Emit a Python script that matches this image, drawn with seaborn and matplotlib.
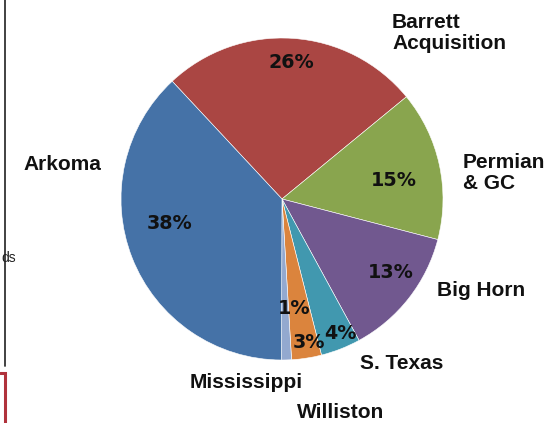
import matplotlib
matplotlib.use("Agg")
import matplotlib.pyplot as plt
import seaborn as sns
from matplotlib.lines import Line2D

sns.set_theme(style="white")
plt.rcParams["font.family"] = ["Liberation Sans", "DejaVu Sans"]

# Share of assets by basin (percent), drawn clockwise from the Barrett wedge
regions = ["Barrett\nAcquisition", "Permian\n& GC", "Big Horn", "S. Texas",
           "Williston", "Mississippi", "Arkoma"]
shares = [26, 15, 13, 4, 3, 1, 38]
colors = ["#AA4643", "#89A54E", "#71588F", "#4198AF",
          "#DB843D", "#93A9CF", "#4572A7"]

W, H = 552, 423
fig = plt.figure(figsize=(W / 100, H / 100), dpi=100)
fig.patch.set_facecolor("white")

# square axes holding the pie: centre (282, 199) px, radius 161 px
cx, cy, r = 282, 199, 161
ax = fig.add_axes([(cx - r) / W, (H - cy - r) / H, 2 * r / W, 2 * r / H])

wedges, texts, autotexts = ax.pie(
    shares, labels=regions, colors=colors, startangle=133, counterclock=False,
    autopct="%d%%", radius=1.0,
    wedgeprops=dict(edgecolor="white", linewidth=0.4),
    textprops=dict(color="#111111"),
)
ax.set_aspect("auto")
ax.set_xlim(-1, 1)
ax.set_ylim(-1, 1)
ax.set_axis_off()


def px(x, y):
    """pixel position -> pie data coordinates"""
    return ((x - cx) / r, (cy - y) / r)


# category label placement (left edge / centre in px)
name_pos = {
    "Barrett\nAcquisition": (392, 33, "left"),
    "Permian\n& GC": (463, 173, "left"),
    "Big Horn": (437, 290, "left"),
    "S. Texas": (360, 363, "left"),
    "Williston": (297, 412, "left"),
    "Mississippi": (190, 382, "left"),
    "Arkoma": (62, 165, "center"),
}
for t in texts:
    x, y, ha = name_pos[t.get_text()]
    t.set_position(px(x, y))
    t.set_ha(ha)
    t.set_va("center")
    t.set_multialignment("left")
    t.set_fontsize(15)
    t.set_fontweight("bold")
    t.set_linespacing(1.12)
    t.set_clip_on(False)

# percentage label centres in px
pct_pos = [(291, 63), (394, 180), (391, 272), (340, 333),
           (309, 342), (294, 308), (170, 223)]
for t, (x, y) in zip(autotexts, pct_pos):
    t.set_position(px(x, y))
    t.set_ha("center")
    t.set_va("center")
    t.set_fontfamily(["DejaVu Sans"])
    t.set_fontstyle("normal")
    t.set_fontweight("bold")
    t.set_fontsize(13.8)
    t.set_color("#111111")

# slide edge decorations on the left
fig.add_artist(Line2D([5 / W, 5 / W], [1, 1 - 366 / H],
                      transform=fig.transFigure, color="#333333", lw=1.3))
fig.add_artist(Line2D([0, 5 / W, 5 / W], [1 - 373 / H, 1 - 373 / H, 0],
                      transform=fig.transFigure, color="#B0323C", lw=2.2,
                      solid_joinstyle="miter"))
fig.text(1 / W, 1 - 258 / H, "ds", ha="left", va="center",
         fontsize=10, color="#222222")

fig.savefig("out.png", dpi=100, facecolor="white")
